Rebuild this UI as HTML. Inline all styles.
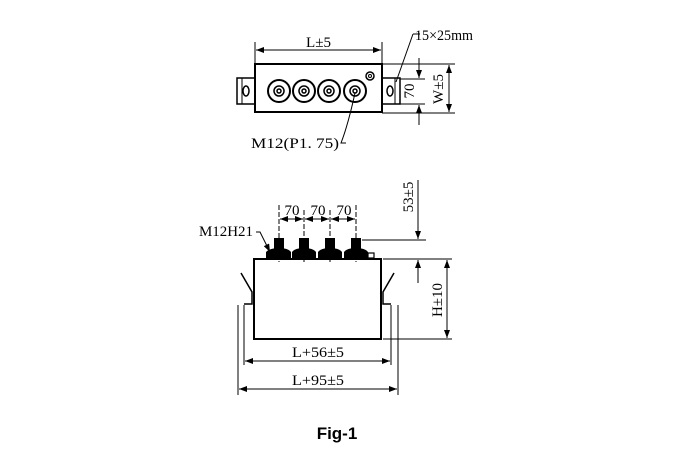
<!DOCTYPE html>
<html><head><style>
body{margin:0;background:#fff;width:690px;height:461px;overflow:hidden}
svg{display:block}
text{font-family:"Liberation Serif",serif;font-size:15px;fill:#000}
</style></head><body>
<svg width="690" height="461" viewBox="0 0 690 461" xmlns="http://www.w3.org/2000/svg">
<defs>
<marker id="a" markerWidth="8" markerHeight="6" refX="8" refY="3" orient="auto-start-reverse" markerUnits="userSpaceOnUse"><path d="M0,0L8,3L0,6z" fill="#000"/></marker>
</defs>
<g stroke="#000" fill="none" stroke-width="1">
<rect x="255" y="64" width="127" height="48" stroke-width="2"/>
<rect x="237" y="78" width="18" height="26" stroke-width="1.5"/>
<rect x="382" y="78" width="18" height="26" stroke-width="1.5"/>
<line x1="242" y1="78" x2="242" y2="104"/><line x1="395" y1="78" x2="395" y2="104"/>
<ellipse cx="246" cy="91" rx="3" ry="5" stroke-width="1.5"/>
<ellipse cx="390" cy="91" rx="3" ry="5" stroke-width="1.5"/>
<g stroke-width="2">
<circle cx="279" cy="91" r="11"/><circle cx="304" cy="91" r="11"/><circle cx="329" cy="91" r="11"/><circle cx="355" cy="91" r="11"/>
</g>
<g stroke-width="1.5">
<circle cx="279" cy="91" r="5"/><circle cx="304" cy="91" r="5"/><circle cx="329" cy="91" r="5"/><circle cx="355" cy="91" r="5"/>
<circle cx="279" cy="91" r="2"/><circle cx="304" cy="91" r="2"/><circle cx="329" cy="91" r="2"/><circle cx="355" cy="91" r="2"/>
</g>
<circle cx="370" cy="76" r="4" stroke-width="1.5"/><circle cx="370" cy="76" r="1.5"/>
<line x1="255" y1="42" x2="255" y2="64"/><line x1="382" y1="42" x2="382" y2="64"/>
<line x1="256" y1="50" x2="381" y2="50" marker-start="url(#a)" marker-end="url(#a)"/>
<line x1="413" y1="34" x2="420" y2="34"/><path d="M413,34 L396,82"/>
<path d="M346,143 L341,143 Q348,125 355,93"/>
<line x1="382" y1="64" x2="455" y2="64"/><line x1="382" y1="113" x2="455" y2="113"/>
<line x1="400" y1="79" x2="425" y2="79"/><line x1="400" y1="104" x2="425" y2="104"/>
<line x1="419" y1="58" x2="419" y2="78" marker-end="url(#a)"/>
<line x1="419" y1="125" x2="419" y2="105" marker-end="url(#a)"/>
<line x1="449" y1="65" x2="449" y2="112" marker-start="url(#a)" marker-end="url(#a)"/>
<rect x="254" y="259" width="127" height="80" stroke-width="2"/>
<g fill="#000" stroke="none">
<path d="M266,258 L266,252 Q270,248 279,248 Q288,248 291,252 L291,258z"/>
<path d="M292,258 L292,252 Q295,248 304,248 Q313,248 316,252 L316,258z"/>
<path d="M318,258 L318,252 Q321,248 330,248 Q339,248 342,252 L342,258z"/>
<path d="M344,258 L344,252 Q347,248 356,248 Q365,248 368,252 L368,258z"/>
<rect x="274" y="238" width="10" height="11"/><rect x="299" y="238" width="10" height="11"/>
<rect x="325" y="238" width="10" height="11"/><rect x="351" y="238" width="10" height="11"/>
</g>
<rect x="368" y="253" width="6" height="5" stroke-width="1.2"/>
<g stroke-dasharray="5,2">
<line x1="279" y1="205" x2="279" y2="262"/><line x1="304" y1="210" x2="304" y2="262"/>
<line x1="330" y1="210" x2="330" y2="262"/><line x1="356" y1="205" x2="356" y2="262"/>
</g>
<line x1="280" y1="219" x2="303" y2="219" marker-start="url(#a)" marker-end="url(#a)"/>
<line x1="305" y1="219" x2="329" y2="219" marker-start="url(#a)" marker-end="url(#a)"/>
<line x1="331" y1="219" x2="355" y2="219" marker-start="url(#a)" marker-end="url(#a)"/>
<path d="M256,232 L260,232 L270,252" marker-end="url(#a)"/>
<line x1="362" y1="240" x2="426" y2="240"/>
<line x1="418" y1="180" x2="418" y2="239" marker-end="url(#a)"/>
<line x1="383" y1="259" x2="452" y2="259"/><line x1="383" y1="339" x2="452" y2="339"/>
<line x1="418" y1="283" x2="418" y2="260" marker-end="url(#a)"/>
<line x1="447" y1="260" x2="447" y2="338" marker-start="url(#a)" marker-end="url(#a)"/>
<path d="M241,273 L252,292 L252,304 L244,304" stroke-width="1.5"/>
<path d="M394,273 L383,292 L383,304 L391,304" stroke-width="1.5"/>
<line x1="244" y1="305" x2="244" y2="365"/><line x1="238" y1="305" x2="238" y2="395"/>
<line x1="391" y1="305" x2="391" y2="365"/><line x1="398" y1="305" x2="398" y2="395"/>
<line x1="245" y1="361" x2="390" y2="361" marker-start="url(#a)" marker-end="url(#a)"/>
<line x1="239" y1="389" x2="397" y2="389" marker-start="url(#a)" marker-end="url(#a)"/>
</g>
<text x="306" y="47" textLength="25" lengthAdjust="spacingAndGlyphs">L±5</text>
<text x="415" y="40" textLength="58" lengthAdjust="spacingAndGlyphs">15×25mm</text>
<text x="251" y="148" textLength="88" lengthAdjust="spacingAndGlyphs">M12(P1. 75)</text>
<text transform="translate(414,91) rotate(-90)" text-anchor="middle">70</text>
<text transform="translate(443,89) rotate(-90)" text-anchor="middle">W±5</text>
<text x="292" y="215" text-anchor="middle">70</text>
<text x="318" y="215" text-anchor="middle">70</text>
<text x="344" y="215" text-anchor="middle">70</text>
<text x="199" y="236" textLength="54" lengthAdjust="spacingAndGlyphs">M12H21</text>
<text transform="translate(413,197) rotate(-90)" text-anchor="middle">53±5</text>
<text transform="translate(442,300) rotate(-90)" text-anchor="middle">H±10</text>
<text x="292" y="357" textLength="52" lengthAdjust="spacingAndGlyphs">L+56±5</text>
<text x="292" y="385" textLength="52" lengthAdjust="spacingAndGlyphs">L+95±5</text>
<text x="337" y="439" text-anchor="middle" style="font-family:'Liberation Sans',sans-serif;font-weight:bold;font-size:17px">Fig-1</text>
</svg>
</body></html>
